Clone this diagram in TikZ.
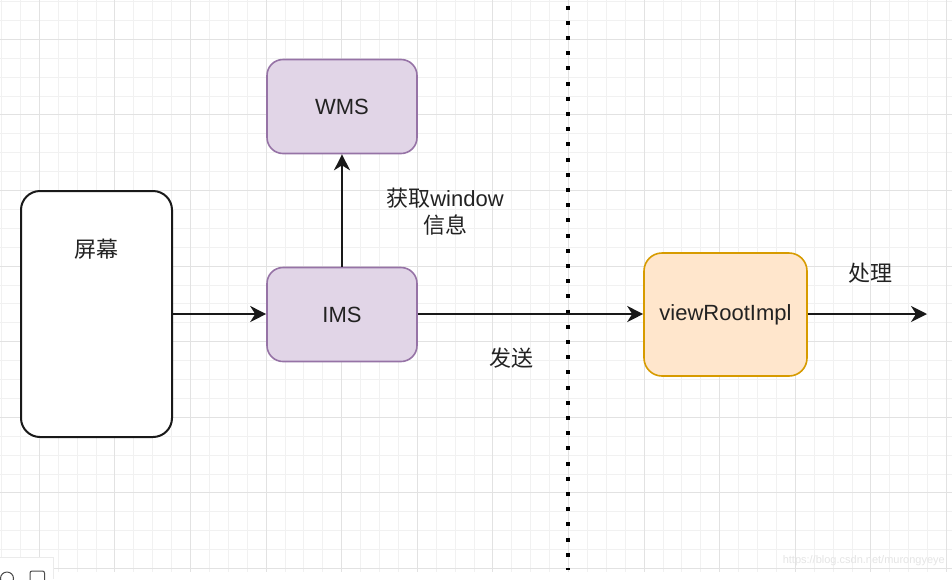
\documentclass[tikz,border=0pt]{standalone}
\usepackage{fontspec}
\setmainfont{Liberation Sans}
\newfontfamily\cjk{Noto Sans CJK SC}
\usetikzlibrary{arrows.meta}
\definecolor{minorgrid}{HTML}{F1F1F1}
\definecolor{majorgrid}{HTML}{E2E2E2}
\definecolor{purpfill}{HTML}{E1D5E7}
\definecolor{purpline}{HTML}{9673A6}
\definecolor{orgfill}{HTML}{FFE6CC}
\definecolor{orgline}{HTML}{D79B00}
\definecolor{txt}{HTML}{222222}
\tikzset{
  mingrid/.style={draw=minorgrid,line width=1pt},
  majgrid/.style={draw=majorgrid,line width=1pt},
  box/.style={rounded corners=16pt,line width=1.6pt,inner sep=0pt,text=txt,
    font=\fontsize{22}{27}\selectfont},
  purplebox/.style={box,draw=purpline,fill=purpfill,minimum width=150pt,minimum height=94pt},
  lbl/.style={text=txt,font=\fontsize{22}{27}\selectfont,align=center,inner sep=0pt},
  conn/.style={draw=black!90,line width=1.9pt,-{Stealth[length=16pt,width=16pt,inset=5pt]}},
}
\begin{document}
\begin{tikzpicture}[x=1pt,y=-1pt]
\useasboundingbox (0,0) rectangle (952,579);
\fill[white] (0,0) rectangle (952,579);
% grid
\foreach \i in {0,...,50}{\draw[mingrid] ({1.5+18.9*\i},0) -- ({1.5+18.9*\i},572);}
\foreach \i in {0,...,30}{\draw[mingrid] (0,{1.5+18.9*\i}) -- (952,{1.5+18.9*\i});}
\foreach \i in {0,...,12}{\draw[majgrid] ({39.3+75.6*\i},0) -- ({39.3+75.6*\i},572);}
\foreach \i in {0,...,7}{\draw[majgrid] (0,{39.3+75.6*\i}) -- (952,{39.3+75.6*\i});}
% dotted separator
\coordinate (septop) at (568,5.5);
\coordinate (sepbot) at (568,570);
\draw[line width=4pt,dash pattern=on 4pt off 11.2pt,black] (septop) -- (sepbot);
% nodes
\node[box,draw=black!90,line width=2pt,rounded corners=19pt,fill=white,minimum width=151pt,minimum height=246pt] (screen) at (96.5,314) {};
\node[lbl] (screenlbl) at (96.5,249) {\cjk 屏幕};
\node[purplebox] (wms) at (342,106.5) {WMS};
\node[purplebox] (ims) at (342,314.5) {IMS};
\node[box,draw=orgline,fill=orgfill,rounded corners=18pt,minimum width=163pt,minimum height=123pt] (vri) at (725.5,314.5) {viewRootImpl};
\coordinate (out) at (927,314);
% connectors
\draw[conn] (screen.east |- 0,314) -- (ims.west |- 0,314);
\draw[conn] (ims) -- (wms);
\draw[conn] (ims.east |- 0,314) -- (vri.west |- 0,314);
\draw[conn] (vri.east |- 0,314) -- (out);
% labels
\node[lbl] (getlbl) at (445,211.5) {{\cjk 获取}window\\{\cjk 信息}};
\node[lbl] (sendlbl) at (511,358) {\cjk 发送};
\node[lbl] (proclbl) at (870,273) {\cjk 处理};
% watermark
\node[text=black!10,font=\fontsize{11}{13}\selectfont,anchor=east,inner sep=0pt] (wm) at (945,561) {https://blog.csdn.net/murongyeye};
% bottom-left UI artifacts
\fill[white] (0,557) rectangle (53,579);
\draw[black!8,line width=0.8pt] (0,557) -- (53,557) -- (53,579);
\draw[black!70,line width=1pt] (7,578.5) circle (6.5pt);
\draw[black!70,line width=1pt,rounded corners=2pt] (30,581) -- (30,571) -- (44.5,571) -- (44.5,581);
\end{tikzpicture}
\end{document}
